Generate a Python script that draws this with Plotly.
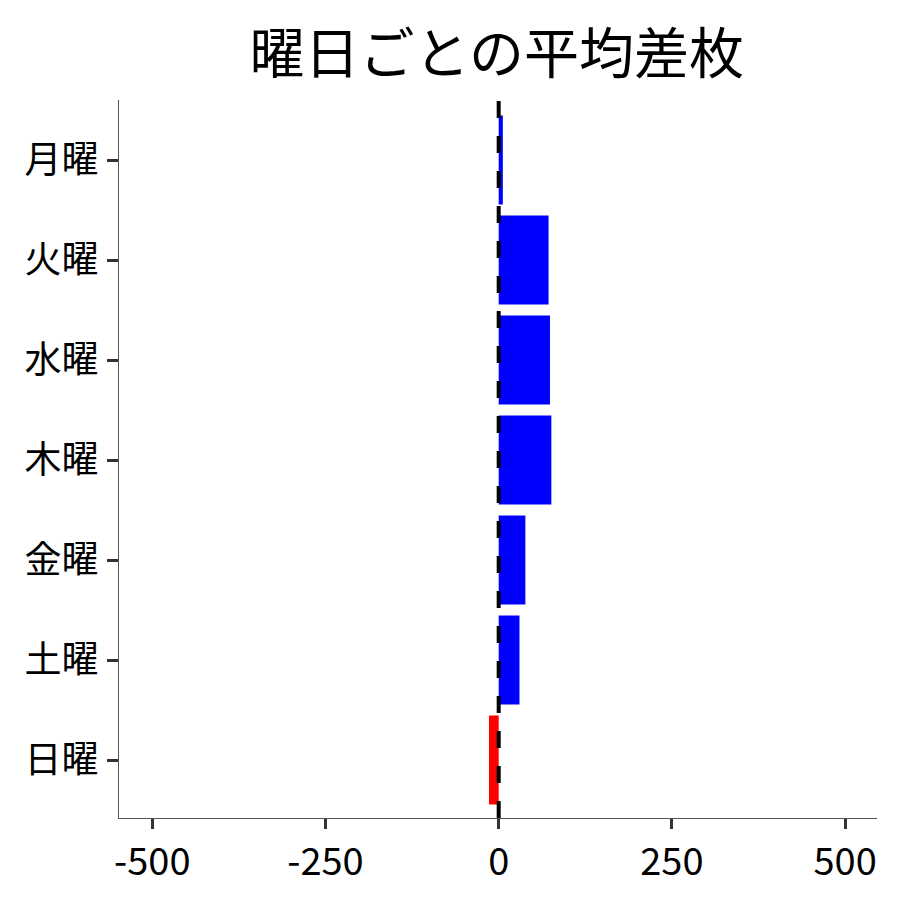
import plotly.graph_objects as go

days = ["月曜", "火曜", "水曜", "木曜", "金曜", "土曜", "日曜"]
values = [6, 72, 74, 76, 38.5, 30, -14]
x_ticks = [-500, -250, 0, 250, 500]

colors = ["blue" if v >= 0 else "red" for v in values]
pos = list(range(len(days)))

FONT = "Noto Sans CJK JP"

fig = go.Figure()
fig.add_trace(go.Bar(
    x=values, y=pos, orientation="h",
    marker=dict(color=colors, line=dict(width=0)),
    width=0.89,
))
fig.add_shape(type="line", x0=0, x1=0, y0=0, y1=1, xref="x", yref="paper",
              line=dict(color="black", width=4, dash="17px,18px"))

fig.update_layout(
    width=900, height=900,
    paper_bgcolor="white", plot_bgcolor="white",
    showlegend=False,
    margin=dict(l=111, r=31, t=92, b=90),
    title=dict(text="曜日ごとの平均差枚", x=0.543, xanchor="center", y=0.9495, yanchor="middle",
               font=dict(family=FONT, size=55, color="black")),
    font=dict(family=FONT, color="black"),
)
fig.update_xaxes(
    range=[-548, 546], tickvals=x_ticks, ticktext=[str(t) for t in x_ticks],
    showgrid=False, zeroline=False, automargin=False,
    showline=True, linecolor="#555555", linewidth=1,
    ticks="outside", ticklen=10, tickwidth=3, tickcolor="#333333",
    tickfont=dict(family=FONT, size=38, color="black"),
)
fig.update_yaxes(
    range=[6.58, -0.6], tickvals=pos, ticktext=days,
    showgrid=False, zeroline=False, automargin=False,
    showline=True, linecolor="#555555", linewidth=1,
    ticks="outside", ticklen=11, tickwidth=3, tickcolor="#333333",
    ticklabelstandoff=1,
    tickfont=dict(family=FONT, size=37, color="black"),
)

fig.write_html("out.html")
